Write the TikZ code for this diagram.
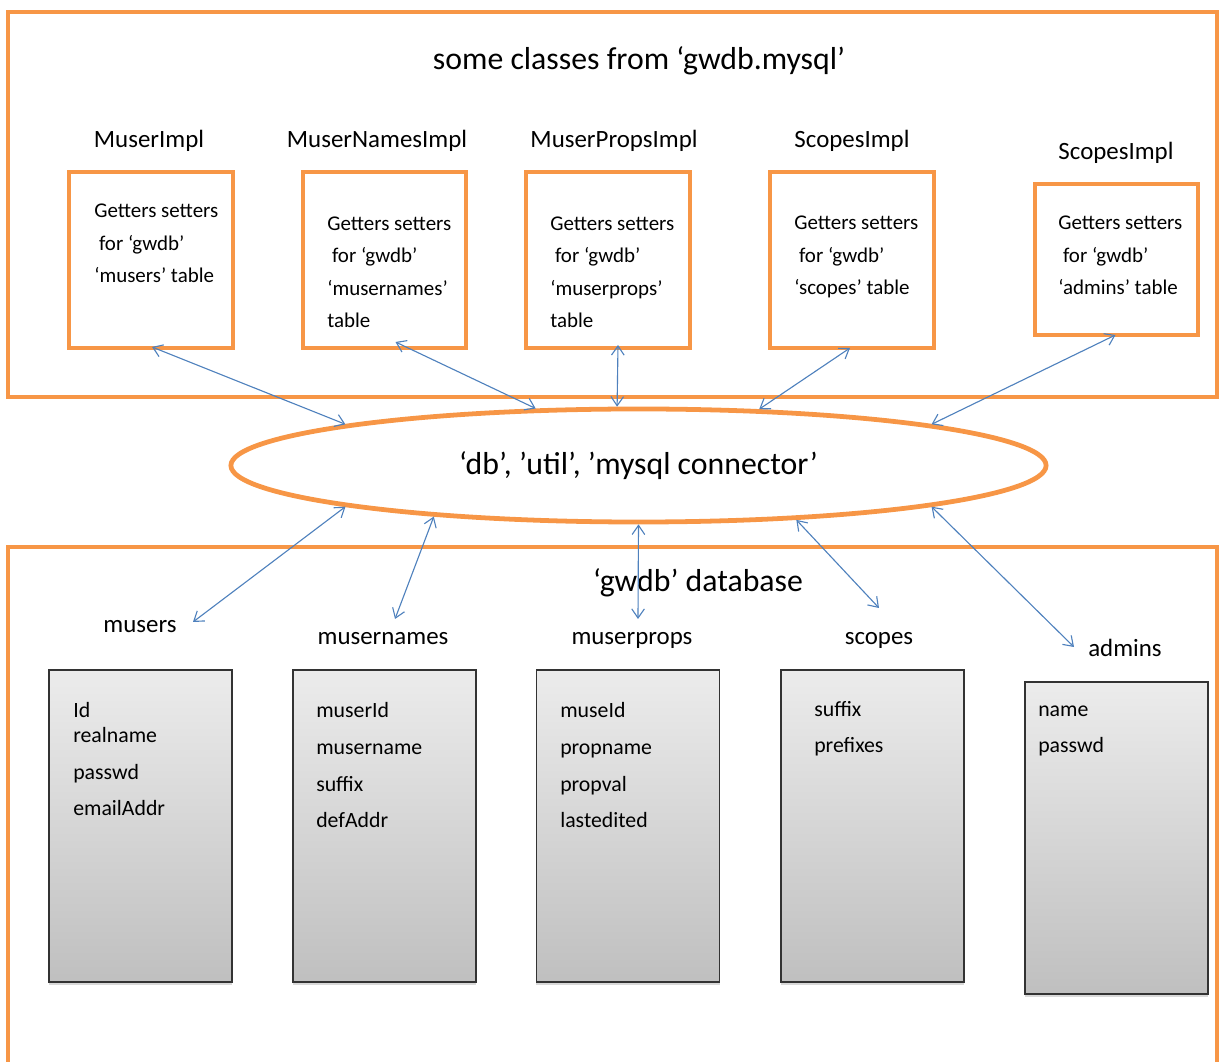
\documentclass[tikz,border=0pt]{standalone}
\usepackage{fontspec}
\setmainfont{Carlito}
\usetikzlibrary{shapes.geometric,shadows,arrows.meta,calc}

\definecolor{frameorange}{HTML}{F79646}
\definecolor{linkblue}{HTML}{4F81BD}

\begin{document}
\begin{tikzpicture}[
      x = 0.025cm, y = -0.025cm,
      frame/.style = {draw = frameorange, line width = 3.4pt},
      classbox/.style = {
        rectangle, draw = frameorange, line width = 2.8pt,
        minimum width = 4.08cm, minimum height = 4.4cm, inner sep = 0pt},
      tablebox/.style = {
        rectangle, draw = black!80, line width = .9pt,
        top color = gray!15, bottom color = gray!50,
        drop shadow = {shadow xshift = 0pt, shadow yshift = -2pt, opacity = .3},
        minimum width = 4.575cm, minimum height = 7.8cm, inner sep = 0pt},
      big/.style = {font = \fontsize{22.6}{27}\selectfont},
      namelabel/.style = {anchor = base, inner sep = 0pt,
        font = \fontsize{17.7}{21}\selectfont},
      % multi-line texts sit on the baseline of their last line
      boxtext/.style = {anchor = base west, inner sep = 0pt, align = left,
        font = \fontsize{14.9}{23.2}\selectfont},
      fields/.style = {anchor = base west, inner sep = 0pt, align = left,
        font = \fontsize{15.5}{26.3}\selectfont},
      link/.style = {draw = linkblue, line width = .8pt, <->,
        >={Straight Barb[length = 6.5pt, width = 9pt]}}
      ]
    \useasboundingbox (0,0) rectangle (1219,1062);

    % upper frame: classes
    \draw [frame] (8,12) rectangle (1217,397);
    \node (title) [big, anchor = base] at (639,70) {some classes from ‘gwdb.mysql’};

    \node (nm1) [namelabel] at (149,148) {MuserImpl};
    \node (nm2) [namelabel] at (377,148) {MuserNamesImpl};
    \node (nm3) [namelabel] at (614,148) {MuserPropsImpl};
    \node (nm4) [namelabel] at (852,148) {ScopesImpl};
    \node (nm5) [namelabel] at (1116,160) {ScopesImpl};

    \node (C1) [classbox] at (151,260) {};
    \node (C2) [classbox] at (384.5,260) {};
    \node (C3) [classbox] at (608,260) {};
    \node (C4) [classbox] at (852,260) {};
    \node (C5) [classbox, minimum height = 3.775cm] at (1116.5,259.5) {};

    \node (G1) [boxtext] at (94,283) {Getters setters\\\ for ‘gwdb’\\‘musers’ table};
    \node (G2) [boxtext] at (327,328) {Getters setters\\\ for ‘gwdb’\\‘musernames’\\table};
    \node (G3) [boxtext] at (550,328) {Getters setters\\\ for ‘gwdb’\\‘muserprops’\\table};
    \node (G4) [boxtext] at (794,295) {Getters setters\\\ for ‘gwdb’\\‘scopes’ table};
    \node (G5) [boxtext] at (1058,295) {Getters setters\\\ for ‘gwdb’\\‘admins’ table};

    % middle: connector layer
    \node (DB) [ellipse, draw = frameorange, line width = 3.4pt, inner sep = 0pt,
      minimum width = 20.375cm, minimum height = 2.825cm, big]
      at (638.5,465.5) {‘db’, ’util’, ’mysql connector’};

    % lower frame: database
    \draw [frame] (8,1080) -- (8,547) -- (1217,547) -- (1217,1080);
    \node (gwdb) [big, anchor = base] at (698,592) {‘gwdb’ database};

    \node (L1) [namelabel] at (140,633) {musers};
    \node (L2) [namelabel] at (383,645) {musernames};
    \node (L3) [namelabel] at (632,645) {muserprops};
    \node (L4) [namelabel] at (879,645) {scopes};
    \node (L5) [namelabel] at (1125,657) {admins};

    \node (T1) [tablebox] at (140.5,826) {};
    \node (T2) [tablebox] at (384.5,826) {};
    \node (T3) [tablebox] at (628,826) {};
    \node (T4) [tablebox] at (872.5,826) {};
    \node (T5) [tablebox] at (1116.5,838) {};

    \node (F1) [fields] at (73,816) {Id\\[-9pt]realname\\passwd\\emailAddr};
    \node (F2) [fields] at (316,828) {muserId\\musername\\suffix\\defAddr};
    \node (F3) [fields] at (560,828) {museId\\propname\\propval\\lastedited};
    \node (F4) [fields] at (814,753) {suffix\\prefixes};
    \node (F5) [fields] at (1038,753) {name\\passwd};

    \coordinate (e1) at (193,622);
    \coordinate (e2) at (395,619);
    \coordinate (e3) at (638,619);
    \coordinate (e4) at (879,608);
    \coordinate (e5) at (1074,647);

    \draw [link] ($(C1.south)+(1,-3)$) -- (DB.172);
    \draw [link] ($(C2.south)+(11,-8)$) -- (DB.151);
    \draw [link] ($(C3.south)+(10,-5)$) -- (DB.110);
    \draw [link] ($(C4.south)+(-2,-2)$) -- (DB.25);
    \draw [link] ($(C5.south)+(-1,-2)$) -- (DB.8);

    \draw [link] (DB.188) -- (e1);
    \draw [link] (DB.194) -- (e2);
    \draw [link] (DB.270) -- (e3);
    \draw [link] (DB.341) -- (e4);
    \draw [link] (DB.352) -- (e5);
  \end{tikzpicture}
\end{document}
